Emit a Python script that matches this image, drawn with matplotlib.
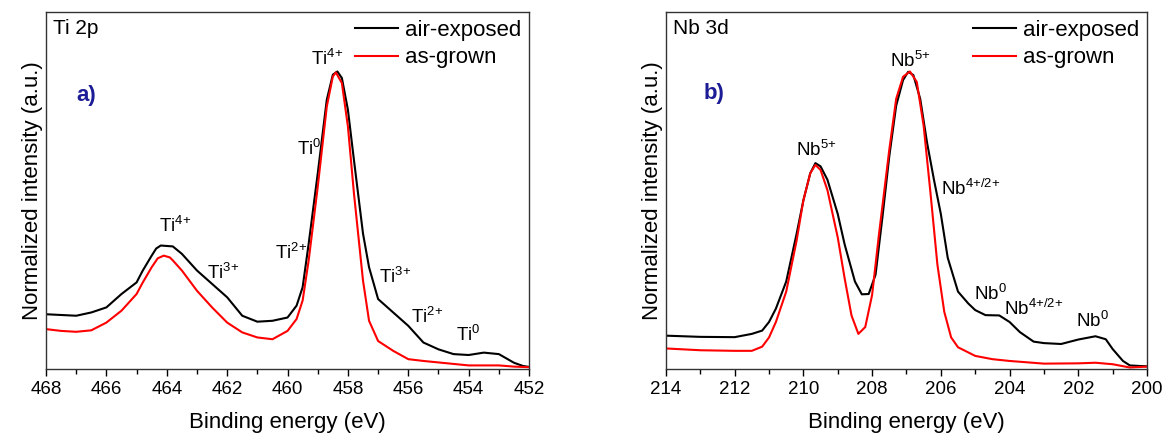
import numpy as np
import matplotlib
matplotlib.use('Agg')
import matplotlib.pyplot as plt
from matplotlib.ticker import MultipleLocator

plt.rcParams['font.family'] = ['Liberation Sans', 'DejaVu Sans']
plt.rcParams['mathtext.fontset'] = 'custom'
plt.rcParams['mathtext.rm'] = 'Liberation Sans'
plt.rcParams['mathtext.default'] = 'regular'

# ---- Ti 2p data (binding energy, normalized intensity) ----
ti_air_e = [468, 467, 466.5, 466, 465.5, 465, 464.8, 464.5, 464.35, 464.2, 463.8, 463.5, 463,
            462.5, 462, 461.5, 461, 460.5, 460, 459.7, 459.5, 459.3, 459, 458.7, 458.5, 458.35,
            458.2, 458, 457.8, 457.5, 457.3, 457, 456.5, 456, 455.5, 455, 454.5, 454, 453.5,
            453, 452.5, 452.2, 452]
ti_air_i = [0.184, 0.179, 0.19, 0.207, 0.252, 0.291, 0.33, 0.381, 0.405, 0.415, 0.412, 0.387,
            0.331, 0.286, 0.241, 0.179, 0.159, 0.162, 0.173, 0.213, 0.275, 0.421, 0.657, 0.905,
            0.989, 1.0, 0.978, 0.871, 0.702, 0.455, 0.342, 0.235, 0.19, 0.145, 0.089, 0.066,
            0.05, 0.047, 0.055, 0.05, 0.021, 0.01, 0.007]
ti_grown_e = [468, 467.5, 467, 466.5, 466, 465.5, 465, 464.8, 464.5, 464.3, 464.1, 463.9, 463.8,
              463.5, 463, 462.5, 462, 461.5, 461, 460.5, 460, 459.7, 459.5, 459.3, 459, 458.7,
              458.5, 458.4, 458.2, 458, 457.8, 457.5, 457.3, 457, 456.5, 456, 455.5, 455, 454,
              453, 452.5, 452]
ti_grown_i = [0.134, 0.128, 0.125, 0.13, 0.156, 0.196, 0.252, 0.29, 0.342, 0.372, 0.381, 0.375,
              0.365, 0.331, 0.263, 0.207, 0.156, 0.123, 0.106, 0.1, 0.128, 0.168, 0.23, 0.365,
              0.612, 0.882, 0.983, 0.997, 0.961, 0.815, 0.59, 0.297, 0.162, 0.094, 0.061, 0.033,
              0.027, 0.022, 0.012, 0.012, 0.008, 0.006]

# ---- Nb 3d data ----
nb_air_e = [214, 213, 212, 211.5, 211.2, 211, 210.8, 210.5, 210.2, 210, 209.8, 209.65, 209.5,
            209.3, 209, 208.8, 208.5, 208.3, 208.1, 207.9, 207.7, 207.5, 207.3, 207.1, 206.95,
            206.8, 206.6, 206.4, 206.2, 206, 205.8, 205.5, 205.2, 205, 204.7, 204.3, 204, 203.7,
            203.3, 203, 202.5, 202, 201.5, 201.2, 201, 200.7, 200.5, 200.2, 200]
nb_air_i = [0.112, 0.108, 0.107, 0.118, 0.129, 0.158, 0.203, 0.294, 0.453, 0.567, 0.658, 0.692,
            0.681, 0.636, 0.521, 0.419, 0.294, 0.251, 0.252, 0.317, 0.51, 0.715, 0.885, 0.971,
            0.999, 0.988, 0.908, 0.76, 0.636, 0.521, 0.374, 0.26, 0.22, 0.198, 0.181, 0.18,
            0.158, 0.124, 0.092, 0.087, 0.084, 0.099, 0.11, 0.1, 0.067, 0.027, 0.012, 0.01, 0.009]
nb_grown_e = [214, 213, 212, 211.5, 211.2, 211, 210.8, 210.5, 210.2, 210, 209.8, 209.65, 209.5,
              209.3, 209, 208.8, 208.6, 208.4, 208.2, 208, 207.8, 207.5, 207.3, 207.1, 206.9,
              206.7, 206.5, 206.3, 206.1, 205.9, 205.7, 205.5, 205, 204.5, 204, 203, 202, 201.5,
              201, 200.5, 200]
nb_grown_i = [0.069, 0.063, 0.061, 0.061, 0.075, 0.106, 0.158, 0.26, 0.43, 0.567, 0.658, 0.686,
              0.669, 0.601, 0.442, 0.305, 0.18, 0.118, 0.141, 0.249, 0.453, 0.737, 0.908, 0.982,
              1.0, 0.965, 0.817, 0.59, 0.351, 0.192, 0.106, 0.073, 0.044, 0.033, 0.027, 0.018,
              0.019, 0.021, 0.016, 0.005, 0.008]

# ---- peak labels (text, energy, intensity) ----
ti_labels = [(r'Ti$^{4{+}}$', 458.69, 1.023), (r'Ti$^{0}$', 459.28, 0.719),
             (r'Ti$^{4{+}}$', 463.72, 0.46), (r'Ti$^{3{+}}$', 462.12, 0.303),
             (r'Ti$^{2{+}}$', 459.87, 0.37), (r'Ti$^{3{+}}$', 456.44, 0.289),
             (r'Ti$^{2{+}}$', 455.37, 0.156), (r'Ti$^{0}$', 454.0, 0.094)]
nb_labels = [(r'Nb$^{5{+}}$', 206.9, 1.016), (r'Nb$^{5{+}}$', 209.63, 0.715),
             (r'Nb$^{4{+}/2{+}}$', 205.13, 0.584), (r'Nb$^{0}$', 204.56, 0.232),
             (r'Nb$^{4{+}/2{+}}$', 203.29, 0.18), (r'Nb$^{0}$', 201.59, 0.141)]

fig = plt.figure(figsize=(11.62, 4.34), dpi=100)
ax1 = fig.add_axes([0.0396, 0.1498, 0.4157, 0.8226])
ax2 = fig.add_axes([0.5731, 0.1498, 0.4140, 0.8226])


def panel(ax, air_e, air_i, gr_e, gr_i, xlim, title, tag, tag_pos, labels):
    ax.plot(air_e, air_i, color='black', lw=1.5, label='air-exposed')
    ax.plot(gr_e, gr_i, color='red', lw=1.5, label='as-grown')
    ax.set_xlim(*xlim)
    ax.set_ylim(0, 1.2)
    ax.set_yticks([])
    ax.xaxis.set_major_locator(MultipleLocator(2))
    ax.xaxis.set_minor_locator(MultipleLocator(1))
    ax.tick_params(axis='x', which='major', length=5, width=1, labelsize=13.5,
                   direction='out', pad=3.5)
    ax.tick_params(axis='x', which='minor', length=3.5, width=1, direction='out')
    for s in ax.spines.values():
        s.set_linewidth(1.0)
        s.set_color('#333333')
    ax.set_xlabel('Binding energy (eV)', fontsize=16, labelpad=10)
    ax.set_ylabel('Normalized intensity (a.u.)', fontsize=16, labelpad=2)
    ax.text(0.014, 0.98, title, transform=ax.transAxes, fontsize=15, va='top', ha='left')
    ax.text(tag_pos[0], tag_pos[1], tag, fontsize=16, fontweight='bold',
            color='#1c1c96', ha='center', va='baseline')
    for txt, x, y in labels:
        ax.text(x, y, txt, fontsize=13.5, ha='center', va='baseline')
    ax.legend(loc='upper right', frameon=False, fontsize=16, handlelength=1.95,
              handletextpad=0.3, labelspacing=0.3, borderaxespad=0.25, borderpad=0.1)


panel(ax1, ti_air_e, ti_air_i, ti_grown_e, ti_grown_i, (468, 452), 'Ti 2p', 'a)',
      (466.68, 0.9), ti_labels)
panel(ax2, nb_air_e, nb_air_i, nb_grown_e, nb_grown_i, (214, 200), 'Nb 3d', 'b)',
      (212.6, 0.908), nb_labels)

fig.savefig('out.png', dpi=100)
